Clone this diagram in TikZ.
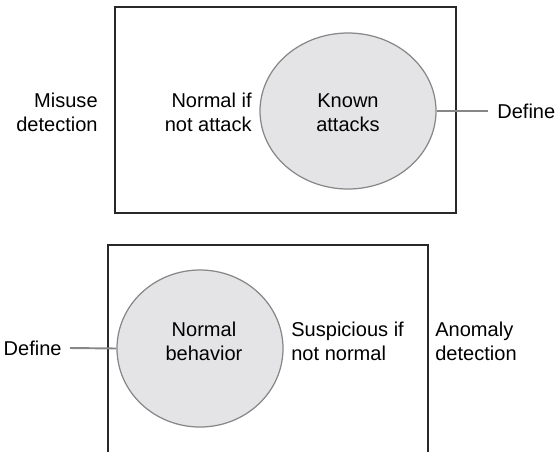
\documentclass[tikz,border=0pt]{standalone}
\usepackage{fontspec}
\setmainfont{Liberation Sans}
\usepackage{tikz}
\usetikzlibrary{shapes.geometric}
\definecolor{lineGray}{RGB}{135, 135, 135}
\definecolor{fillGray}{RGB}{228, 228, 230}
\definecolor{boxDark}{RGB}{40, 40, 40}

\begin{document}
\begin{tikzpicture}[
    every node/.style={font=\fontsize{11.4}{13.6}\selectfont, inner sep=0pt},
    region/.style={ellipse, draw=lineGray, fill=fillGray, line width=0.7pt},
    link/.style={draw=lineGray, line width=1.1pt}
  ]
  \useasboundingbox (0,0) rectangle (11.12,9.02);

  % misuse detection
  \draw[boxDark, line width=0.6pt] (2.30,4.76) rectangle (9.12,8.88);
  \node[region, minimum width=3.52cm, minimum height=3.12cm] (known) at (6.96,6.80) {};
  \node[align=center] (knowntxt) at (6.96,6.77) {Known\\attacks};
  \node[align=right, anchor=east] (normalif) at (5.04,6.77) {Normal if\\not attack};
  \node[align=right, anchor=east] (misuse) at (1.96,6.77) {Misuse\\detection};
  \node[anchor=west] (defineA) at (9.94,6.80) {Define};
  \coordinate (defA) at (9.76,6.80);
  \draw[link] (known.east) -- (defA);

  % anomaly detection
  \draw[boxDark, line width=0.6pt] (2.16,-0.3) rectangle (8.56,4.12);
  \node[region, minimum width=3.32cm, minimum height=3.14cm] (normal) at (4.00,2.05) {};
  \node[align=center] (normaltxt) at (4.08,2.19) {Normal\\behavior};
  \node[align=left, anchor=west] (suspicious) at (5.82,2.19) {Suspicious if\\not normal};
  \node[align=left, anchor=west] (anomaly) at (8.70,2.19) {Anomaly\\detection};
  \node[anchor=east] (defineB) at (1.24,2.06) {Define};
  \coordinate (defB) at (1.40,2.06);
  \draw[link] (defB) -- (normal.west);
\end{tikzpicture}
\end{document}
